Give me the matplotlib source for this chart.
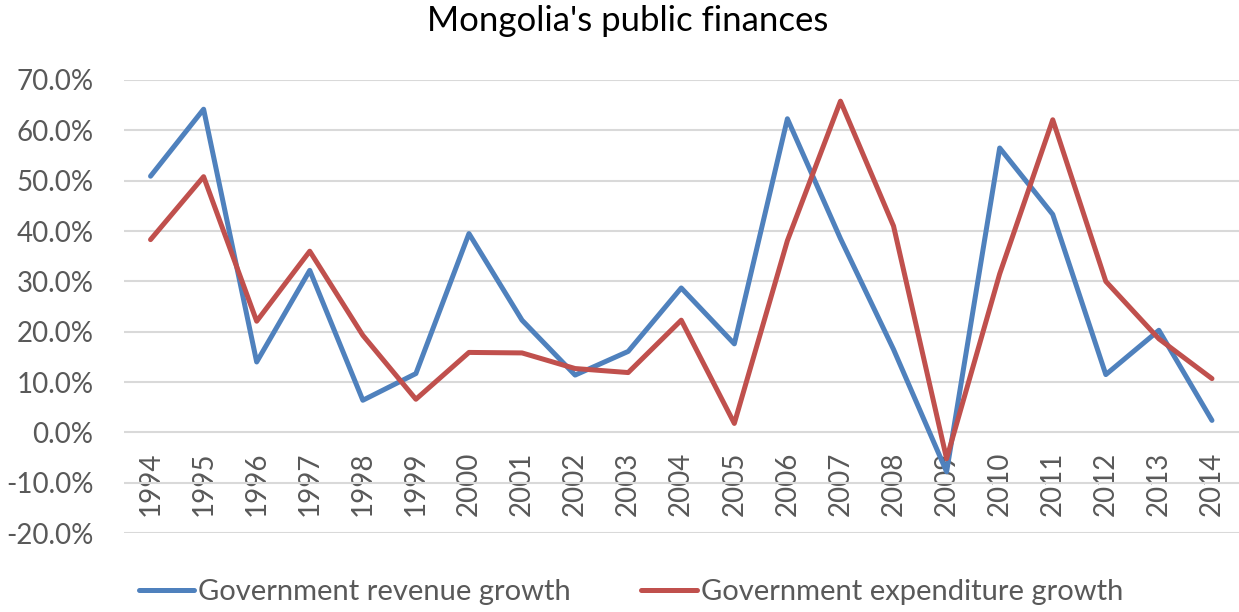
import matplotlib
matplotlib.use("Agg")
import matplotlib.pyplot as plt
from matplotlib.ticker import PercentFormatter

years = [str(y) for y in range(1994, 2015)]
revenue = [50.9, 64.2, 14.0, 32.2, 6.4, 11.7, 39.5, 22.3, 11.4, 16.1, 28.7,
           17.6, 62.3, 38.5, 16.5, -7.8, 56.5, 43.3, 11.5, 20.3, 2.4]
expenditure = [38.3, 50.8, 22.1, 36.0, 19.3, 6.6, 15.9, 15.8, 12.7, 11.9, 22.3,
               1.8, 38.1, 65.8, 41.0, -5.2, 31.5, 62.1, 30.0, 18.6, 10.7]

plt.rcParams['font.family'] = ['Lato', 'DejaVu Sans']
plt.rcParams['axes.unicode_minus'] = False
grey = '#595959'

fig = plt.figure(figsize=(12.39, 6.12), dpi=100)
ax = fig.add_axes([124 / 1239, 1 - 533.2 / 612, (1238.5 - 124) / 1239, (533.2 - 80) / 612])

x = list(range(len(years)))
ax.plot(x, revenue, color='#4f81bd', lw=3.6, label='Government revenue growth',
        solid_joinstyle='round', solid_capstyle='round')
ax.plot(x, expenditure, color='#c0504d', lw=3.6, label='Government expenditure growth',
        solid_joinstyle='round', solid_capstyle='round')

'''axes setup'''
ax.set_xlim(-0.5, len(years) - 0.5)
ax.set_ylim(-20, 70)
ax.set_yticks(range(-20, 71, 10))
ax.yaxis.set_major_formatter(PercentFormatter(decimals=1))
ax.set_xticks(x)
ax.set_xticklabels(years)
ax.grid(axis='y', color='#d9d9d9', lw=1.5)
ax.set_axisbelow(True)
for side in ['top', 'right', 'left']:
    ax.spines[side].set_visible(False)
ax.spines['bottom'].set_position(('data', 0))
ax.spines['bottom'].set_color('none')
ax.tick_params(axis='x', length=0, pad=14, labelsize=20, labelcolor=grey, labelrotation=90)
ax.tick_params(axis='y', length=0, pad=22, labelsize=20, labelcolor=grey)

fig.text(628 / 1239, 1 - 21 / 612, "Mongolia's public finances", ha='center', va='center',
         fontsize=25, color='black')

fig.legend(loc='center', bbox_to_anchor=(631 / 1239, 1 - 592 / 612), ncol=2, frameon=False,
           fontsize=21, labelcolor=grey, handlelength=1.9, handletextpad=0.15,
           columnspacing=2.4)

fig.savefig('out.png', dpi=100)
